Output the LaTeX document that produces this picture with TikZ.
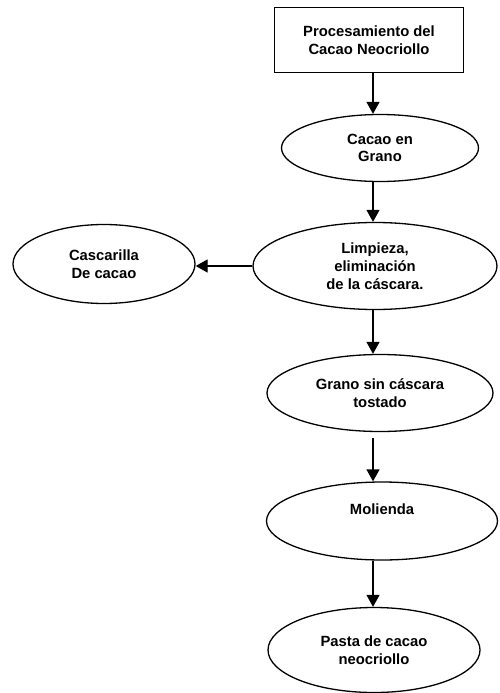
\documentclass[tikz,border=0pt]{standalone}
\usepackage{fontspec}
\setsansfont{Liberation Sans}
\usetikzlibrary{positioning,shapes.geometric,arrows.meta}

\begin{document}
\begin{tikzpicture}[x=1pt,y=-1pt,
    paso/.style={ellipse, draw, line width=1.3pt, inner sep=0pt, align=center,
        font=\sffamily\bfseries\fontsize{14.8}{17.8}\selectfont},
    titulo/.style={rectangle, draw, line width=1.3pt, inner sep=0pt, align=center,
        minimum width=189pt, minimum height=65pt,
        font=\sffamily\bfseries\fontsize{14.8}{17.8}\selectfont},
    flecha/.style={line width=1.3pt, -{Triangle[length=12pt,width=13pt]}}]
    \useasboundingbox (0,0) rectangle (500,693);

    \coordinate (col) at (373,0);

    \node[titulo] (proc) at (369,40) {Procesamiento del\\Cacao Neocriollo};
    \node[paso, minimum width=197pt, minimum height=67pt] (grano) at (380,148) {Cacao en\\Grano};
    \node[paso, minimum width=244pt, minimum height=87pt] (limp) at (375,266) {Limpieza,\\eliminación\\de la cáscara.};
    \node[paso, minimum width=182pt, minimum height=79pt] (casc) at (104,264) {Cascarilla\\De cacao};
    \node[paso, minimum width=226pt, minimum height=77pt] (tost) at (380,393) {Grano sin cáscara\\tostado};
    \node[paso, minimum width=231pt, minimum height=78pt] (mol) at (382,521) {Molienda\\\strut};
    \node[paso, minimum width=212pt, minimum height=85pt] (pasta) at (374,650) {Pasta de cacao\\neocriollo};

    \draw[flecha] (proc.south -| col) -- (grano.north -| col);
    \draw[flecha] (grano.south -| col) -- (limp.north -| col);
    \draw[flecha] (limp.west) -- (casc.east |- limp.west);
    \draw[flecha] (limp.south -| col) -- (tost.north -| col);
    \draw[flecha, shorten <=6pt] (tost.south -| col) -- (mol.north -| col);
    \draw[flecha] (mol.south -| col) -- (pasta.north -| col);

\end{tikzpicture}
\end{document}
